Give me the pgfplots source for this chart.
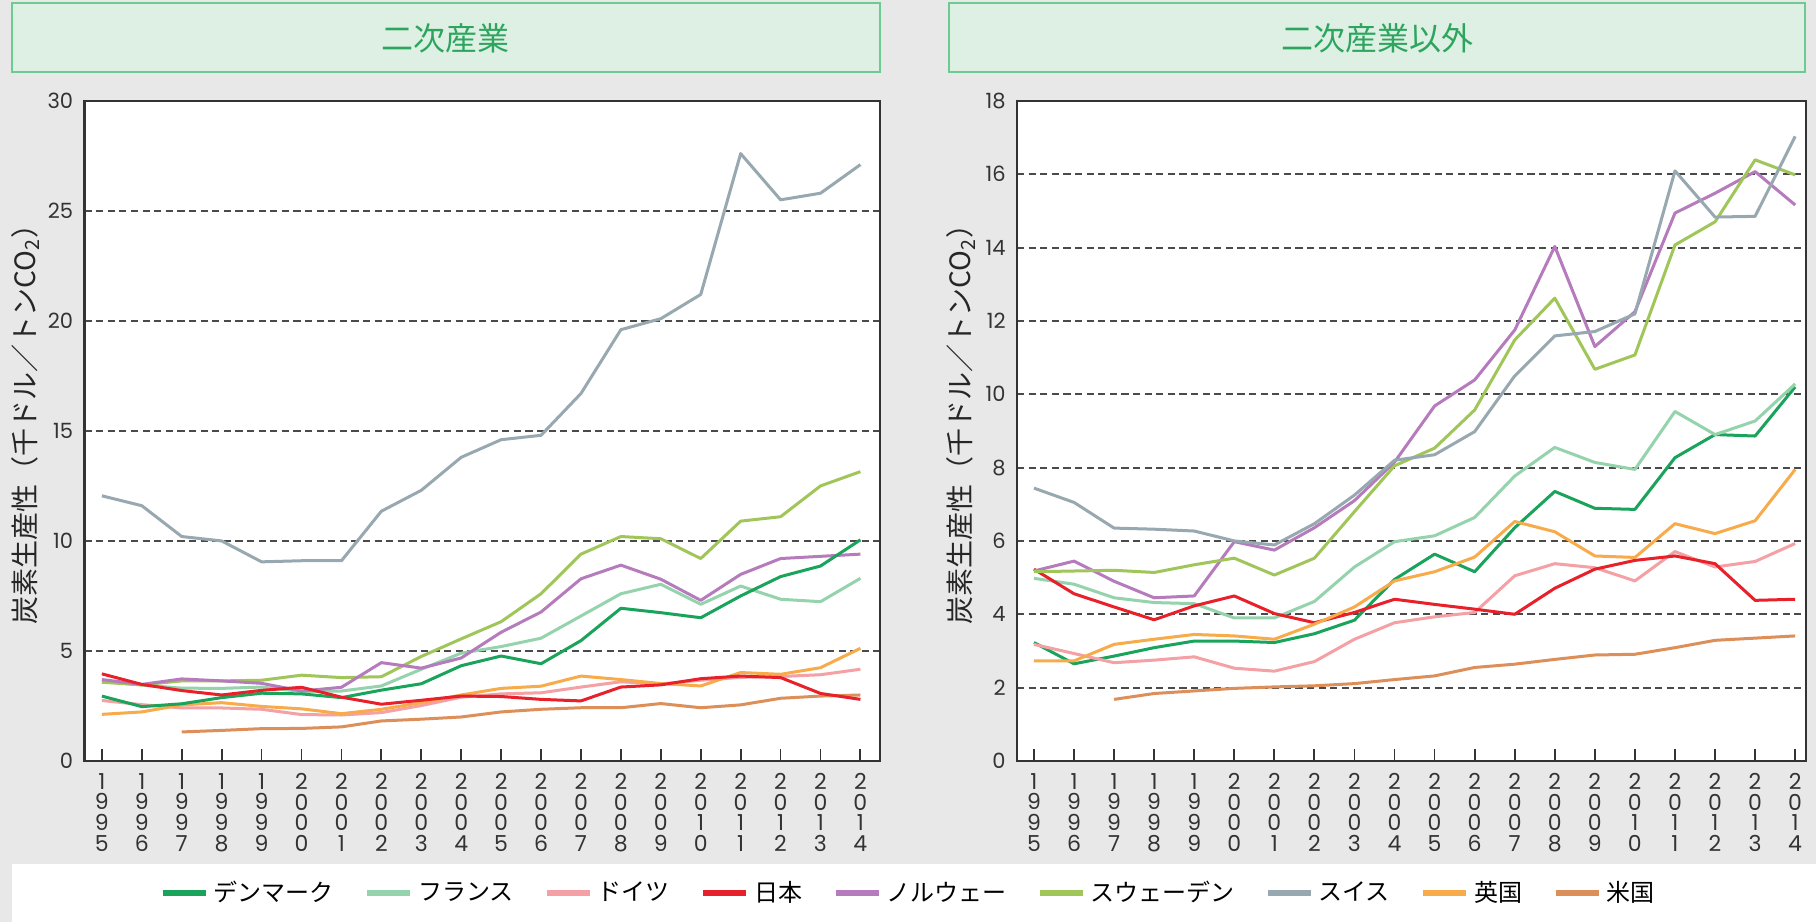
\documentclass[border=0pt]{standalone}
\usepackage{pgfplots}
\pgfplotsset{compat=1.18}
\usepackage{pgfplotstable}
\usepackage{fontspec}
\setmainfont{Noto Sans CJK JP}
\newfontfamily\numfont{Poppins}

\definecolor{bgc}{HTML}{E8E8E8}
\definecolor{hdfill}{HTML}{DEF0E3}
\definecolor{hddraw}{HTML}{6CCB91}
\definecolor{hdtext}{HTML}{2DA55F}
\definecolor{gridc}{HTML}{4A4A4A}
\definecolor{cDK}{HTML}{1AA35A}
\definecolor{cFR}{HTML}{94D3AC}
\definecolor{cDE}{HTML}{F4A0A4}
\definecolor{cJP}{HTML}{E8202A}
\definecolor{cNO}{HTML}{B57BBD}
\definecolor{cSE}{HTML}{A0C65A}
\definecolor{cCH}{HTML}{98A8B0}
\definecolor{cUK}{HTML}{F7AB4A}
\definecolor{cUS}{HTML}{DD8F5A}

\pgfplotstableread{
year dk fr de jp no se ch uk us
1995 2.95 3.62 2.75 3.96 3.70 3.58 12.05 2.12 nan
1996 2.47 3.45 2.56 3.48 3.48 3.46 11.60 2.23 nan
1997 2.60 3.31 2.41 3.20 3.73 3.64 10.20 2.55 1.32
1998 2.88 3.30 2.41 3.00 3.64 3.64 10.00 2.65 1.39
1999 3.08 3.36 2.35 3.21 3.53 3.67 9.05 2.48 1.47
2000 3.05 3.16 2.11 3.35 3.18 3.90 9.10 2.37 1.48
2001 2.88 3.18 2.09 2.90 3.35 3.79 9.10 2.15 1.55
2002 3.22 3.41 2.20 2.58 4.47 3.83 11.35 2.35 1.82
2003 3.51 4.17 2.52 2.76 4.22 4.75 12.30 2.65 1.90
2004 4.33 4.90 2.90 2.95 4.68 5.55 13.80 3.00 2.00
2005 4.77 5.20 3.05 2.93 5.85 6.33 14.60 3.30 2.23
2006 4.42 5.58 3.10 2.80 6.77 7.60 14.80 3.40 2.35
2007 5.47 6.59 3.36 2.73 8.28 9.40 16.70 3.86 2.42
2008 6.94 7.60 3.60 3.36 8.90 10.20 19.60 3.70 2.42
2009 6.74 8.03 3.50 3.46 8.26 10.10 20.10 3.52 2.61
2010 6.51 7.12 3.67 3.74 7.30 9.20 21.20 3.41 2.42
2011 7.50 7.95 3.80 3.86 8.48 10.90 27.60 4.02 2.55
2012 8.38 7.35 3.84 3.79 9.20 11.10 25.50 3.94 2.85
2013 8.86 7.24 3.92 3.07 9.30 12.50 25.80 4.24 2.95
2014 10.05 8.30 4.17 2.80 9.40 13.15 27.10 5.12 3.00
}\secondary

\pgfplotstableread{
year dk fr de jp no se ch uk us
1995 3.23 4.98 3.18 5.23 5.18 5.16 7.44 2.73 nan
1996 2.65 4.82 2.93 4.56 5.45 5.18 7.05 2.73 nan
1997 2.86 4.45 2.68 4.20 4.90 5.20 6.35 3.18 1.68
1998 3.09 4.32 2.75 3.85 4.45 5.14 6.32 3.32 1.84
1999 3.27 4.29 2.84 4.23 4.50 5.35 6.27 3.45 1.91
2000 3.27 3.90 2.53 4.50 5.98 5.53 6.00 3.41 1.98
2001 3.23 3.90 2.45 4.02 5.75 5.07 5.89 3.32 2.02
2002 3.47 4.35 2.71 3.77 6.36 5.53 6.47 3.73 2.05
2003 3.84 5.29 3.32 4.05 7.10 6.80 7.25 4.20 2.11
2004 4.95 5.98 3.77 4.41 8.15 8.05 8.20 4.91 2.22
2005 5.64 6.14 3.93 4.27 9.68 8.53 8.35 5.16 2.32
2006 5.16 6.64 4.05 4.14 10.39 9.57 8.98 5.56 2.55
2007 6.36 7.77 5.05 4.00 11.75 11.48 10.50 6.53 2.64
2008 7.35 8.55 5.38 4.71 14.03 12.62 11.59 6.25 2.77
2009 6.89 8.14 5.27 5.23 11.30 10.68 11.71 5.59 2.89
2010 6.86 7.95 4.91 5.47 12.25 11.07 12.19 5.55 2.91
2011 8.27 9.53 5.71 5.59 14.94 14.07 16.09 6.47 3.09
2012 8.90 8.90 5.29 5.38 15.48 14.70 14.83 6.20 3.29
2013 8.86 9.27 5.44 4.38 16.07 16.39 14.85 6.55 3.35
2014 10.20 10.28 5.93 4.41 15.16 15.98 17.03 7.95 3.41
}\others

\pgfplotsset{
  panel/.style={
    scale only axis,
    axis background/.style={fill=white},
    axis line style={line width=1.1pt, color=black!80},
    xtick={1995,...,2014},
    xticklabels={{1\\9\\9\\5},{1\\9\\9\\6},{1\\9\\9\\7},{1\\9\\9\\8},{1\\9\\9\\9},{2\\0\\0\\0},{2\\0\\0\\1},{2\\0\\0\\2},{2\\0\\0\\3},{2\\0\\0\\4},{2\\0\\0\\5},{2\\0\\0\\6},{2\\0\\0\\7},{2\\0\\0\\8},{2\\0\\0\\9},{2\\0\\1\\0},{2\\0\\1\\1},{2\\0\\1\\2},{2\\0\\1\\3},{2\\0\\1\\4}},
    xticklabel style={align=center, anchor=north, inner sep=0pt, yshift=-6pt,
      font=\numfont\fontsize{11}{10.3}\selectfont, text=black!80},
    yticklabel style={anchor=east, inner sep=0pt, xshift=-5.5pt,
      font=\numfont\fontsize{10.5}{10.5}\selectfont, text=black!80},
    /pgf/number format/assume math mode=true,
    tick align=inside,
    xtick pos=bottom,
    major tick length=5.8pt,
    xtick style={draw=black!80, line width=0.9pt},
    ytick style={draw=none},
    ymajorgrids,
    major grid style={dash pattern=on 3.6pt off 2.2pt, line width=1pt, color=gridc},
    every axis plot/.append style={line width=1.5pt, line join=round},
    ymin=0,
    ylabel={炭素生産性（千ドル／トンCO\textsubscript{2}）},
    legend image code/.code={\draw[line width=2.6pt] (0pt,0pt) -- (21.5pt,0pt);},
  }
}

\begin{document}
\begin{tikzpicture}
\path[use as bounding box, fill=bgc] (0pt,0pt) rectangle (908pt,461pt);
% headers
\draw[fill=hdfill, draw=hddraw, line width=1pt] (5.8pt,425pt) rectangle (440pt,459.25pt);
\draw[fill=hdfill, draw=hddraw, line width=1pt] (474.5pt,425pt) rectangle (902.5pt,459.25pt);
\node[text=hdtext, font=\fontsize{16}{16}\selectfont] at (222.9pt,442pt) {二次産業};
\node[text=hdtext, font=\fontsize{16}{16}\selectfont] at (688.5pt,442pt) {二次産業以外};
% legend box
\fill[white] (5.8pt,0pt) rectangle (908pt,29pt);

\begin{axis}[panel,
  at={(42.25pt,80.5pt)}, anchor=south west,
  width=397.75pt, height=330.1pt,
  xmin=1994.564, xmax=2014.49,
  ymax=30, ytick={0,5,...,30},
  every axis y label/.style={at={(axis description cs:-0.0742,0.52)}, rotate=90, anchor=center,
    font=\fontsize{14}{14}\selectfont, text=black!85},
]
\addplot[cUS] table[x=year,y=us] {\secondary};
\addplot[cDE] table[x=year,y=de] {\secondary};
\addplot[cFR] table[x=year,y=fr] {\secondary};
\addplot[cUK] table[x=year,y=uk] {\secondary};
\addplot[cCH] table[x=year,y=ch] {\secondary};
\addplot[cSE] table[x=year,y=se] {\secondary};
\addplot[cNO] table[x=year,y=no] {\secondary};
\addplot[cDK] table[x=year,y=dk] {\secondary};
\addplot[cJP] table[x=year,y=jp] {\secondary};
\end{axis}

\begin{axis}[panel,
  at={(508.5pt,80.5pt)}, anchor=south west,
  width=394.5pt, height=330.1pt,
  xmin=1994.576, xmax=2014.27,
  ymax=18, ytick={0,2,...,18},
  every axis y label/.style={at={(axis description cs:-0.071,0.52)}, rotate=90, anchor=center,
    font=\fontsize{14}{14}\selectfont, text=black!85},
  legend columns=9,
  legend style={at={(axis description cs:-0.1356,-0.2)}, anchor=center,
    draw=none, fill=none, font=\fontsize{12}{12}\selectfont,
    /tikz/every even column/.append style={column sep=13pt},
    nodes={inner sep=2.5pt}},
]
\addplot[cDK] table[x=year,y=dk] {\others}; \addlegendentry{デンマーク}
\addplot[cFR] table[x=year,y=fr] {\others}; \addlegendentry{フランス}
\addplot[cDE] table[x=year,y=de] {\others}; \addlegendentry{ドイツ}
\addplot[cJP] table[x=year,y=jp] {\others}; \addlegendentry{日本}
\addplot[cNO] table[x=year,y=no] {\others}; \addlegendentry{ノルウェー}
\addplot[cSE] table[x=year,y=se] {\others}; \addlegendentry{スウェーデン}
\addplot[cCH] table[x=year,y=ch] {\others}; \addlegendentry{スイス}
\addplot[cUK] table[x=year,y=uk] {\others}; \addlegendentry{英国}
\addplot[cUS] table[x=year,y=us] {\others}; \addlegendentry{米国}
\end{axis}
\end{tikzpicture}
\end{document}
